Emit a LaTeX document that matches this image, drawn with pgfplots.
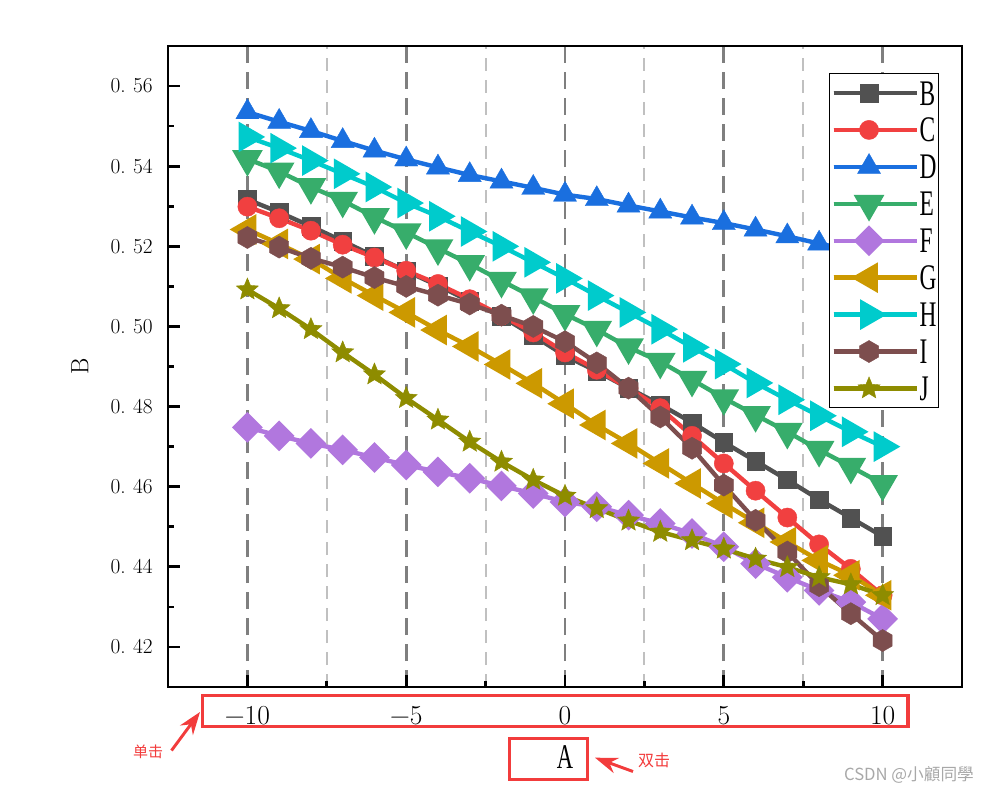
\documentclass[border=0pt]{standalone}
\usepackage{fontspec}
\newfontfamily\narrowfont[FakeStretch=0.65]{Liberation Serif}
\newfontfamily\cjkfont{Noto Sans CJK SC}
\usepackage{pgfplots}
\usepackage{pgfplotstable}
\pgfplotsset{compat=1.18}
\usetikzlibrary{arrows.meta}

\definecolor{cB}{HTML}{515151}
\definecolor{cC}{HTML}{F14040}
\definecolor{cD}{HTML}{1A6FDF}
\definecolor{cE}{HTML}{37AD6B}
\definecolor{cF}{HTML}{B177DE}
\definecolor{cG}{HTML}{CC9900}
\definecolor{cH}{HTML}{00CBCC}
\definecolor{cI}{HTML}{7D4E4E}
\definecolor{cJ}{HTML}{8E8C00}
\definecolor{gridmaj}{HTML}{7F7F7F}
\definecolor{gridmin}{HTML}{C0C0C0}
\definecolor{annot}{HTML}{F23C3C}
\definecolor{wm}{HTML}{A8A8A8}

\pgfdeclareplotmark{hexagon*}{%
  \pgfpathmoveto{\pgfqpointpolar{90}{\pgfplotmarksize}}%
  \pgfpathlineto{\pgfqpointpolar{150}{\pgfplotmarksize}}%
  \pgfpathlineto{\pgfqpointpolar{210}{\pgfplotmarksize}}%
  \pgfpathlineto{\pgfqpointpolar{270}{\pgfplotmarksize}}%
  \pgfpathlineto{\pgfqpointpolar{330}{\pgfplotmarksize}}%
  \pgfpathlineto{\pgfqpointpolar{30}{\pgfplotmarksize}}%
  \pgfpathclose\pgfusepathqfillstroke}
\pgfdeclareplotmark{star5*}{%
  \pgfpathmoveto{\pgfqpointpolar{90}{\pgfplotmarksize}}%
  \pgfpathlineto{\pgfqpointpolar{126}{0.45\pgfplotmarksize}}%
  \pgfpathlineto{\pgfqpointpolar{162}{\pgfplotmarksize}}%
  \pgfpathlineto{\pgfqpointpolar{198}{0.45\pgfplotmarksize}}%
  \pgfpathlineto{\pgfqpointpolar{234}{\pgfplotmarksize}}%
  \pgfpathlineto{\pgfqpointpolar{270}{0.45\pgfplotmarksize}}%
  \pgfpathlineto{\pgfqpointpolar{306}{\pgfplotmarksize}}%
  \pgfpathlineto{\pgfqpointpolar{342}{0.45\pgfplotmarksize}}%
  \pgfpathlineto{\pgfqpointpolar{18}{\pgfplotmarksize}}%
  \pgfpathlineto{\pgfqpointpolar{54}{0.45\pgfplotmarksize}}%
  \pgfpathclose\pgfusepathqfillstroke}

\pgfplotstableread{
x   B      C      D      E      F      G      H      I      J
-10 0.5317 0.5299 0.5535 0.5418 0.4748 0.5242 0.5473 0.5222 0.5092
-9  0.5285 0.5270 0.5511 0.5387 0.4727 0.5206 0.5445 0.5198 0.5045
-8  0.5250 0.5239 0.5488 0.5348 0.4708 0.5168 0.5414 0.5170 0.4993
-7  0.5213 0.5204 0.5463 0.5314 0.4692 0.5120 0.5381 0.5148 0.4935
-6  0.5175 0.5172 0.5439 0.5273 0.4673 0.5077 0.5348 0.5122 0.4880
-5  0.5138 0.5139 0.5417 0.5235 0.4654 0.5035 0.5308 0.5100 0.4821
-4  0.5102 0.5106 0.5397 0.5195 0.4637 0.4991 0.5275 0.5078 0.4767
-3  0.5063 0.5068 0.5378 0.5156 0.4621 0.4950 0.5237 0.5056 0.4712
-2  0.5025 0.5027 0.5362 0.5114 0.4602 0.4905 0.5200 0.5028 0.4662
-1  0.4977 0.4985 0.5346 0.5073 0.4583 0.4858 0.5160 0.5000 0.4617
0   0.4927 0.4935 0.5329 0.5031 0.4562 0.4807 0.5120 0.4962 0.4577
1   0.4888 0.4892 0.5318 0.4992 0.4550 0.4754 0.5077 0.4909 0.4546
2   0.4846 0.4846 0.5302 0.4948 0.4529 0.4708 0.5035 0.4846 0.4515
3   0.4805 0.4796 0.5287 0.4912 0.4508 0.4658 0.4993 0.4774 0.4487
4   0.4760 0.4727 0.5272 0.4867 0.4483 0.4608 0.4948 0.4696 0.4466
5   0.4711 0.4658 0.5258 0.4821 0.4450 0.4558 0.4906 0.4604 0.4445
6   0.4664 0.4590 0.5242 0.4779 0.4408 0.4510 0.4859 0.4516 0.4420
7   0.4617 0.4523 0.5225 0.4737 0.4374 0.4462 0.4817 0.4437 0.4399
8   0.4568 0.4456 0.5207 0.4692 0.4341 0.4416 0.4777 0.4353 0.4374
9   0.4522 0.4395 0.5190 0.4650 0.4312 0.4379 0.4737 0.4283 0.4356
10  0.4476 0.4329 0.5172 0.4607 0.4270 0.4329 0.4700 0.4216 0.4329
}\datatable

\pgfplotsset{
  ser/.style={color=#1, line width=3.3pt, mark options={solid, fill=#1, draw=#1, line width=0.3pt}},
}

\begin{document}
\begin{tikzpicture}
\path[use as bounding box] (0pt,0pt) rectangle (744pt,595.5pt);
\begin{axis}[
  at={(126pt,80.25pt)}, anchor=south west,
  width=595.5pt, height=480.75pt, scale only axis,
  xmin=-12.5, xmax=12.5, ymin=0.41, ymax=0.57,
  axis line style={line width=2.2pt},
  tick align=inside, tick pos=left,
  xtick={-10,-5,0,5,10},
  xticklabels={−10,−5,0,5,10},
  minor x tick num=1,
  ytick={0.42,0.44,0.46,0.48,0.50,0.52,0.54,0.56},
  yticklabels={0.\hspace{0.35em}42,0.\hspace{0.35em}44,0.\hspace{0.35em}46,0.\hspace{0.35em}48,0.\hspace{0.35em}50,0.\hspace{0.35em}52,0.\hspace{0.35em}54,0.\hspace{0.35em}56},
  minor y tick num=1,
  major tick length=9pt, minor tick length=4.5pt,
  every tick/.style={black, line width=2pt},
  xmajorgrids, xminorgrids,
  major grid style={gridmaj, line width=2.2pt, dash pattern=on 13pt off 6.5pt},
  minor grid style={gridmin, line width=1.5pt, dash pattern=on 10pt off 6.5pt},
  xticklabel style={font=\fontsize{20.6}{22}\selectfont, anchor=north, inner sep=0pt, text height=13.5pt, text depth=0pt, yshift=-14.25pt},
  yticklabel style={font=\fontsize{16}{18}\selectfont, anchor=east, inner sep=0pt, text height=10.3pt, text depth=0pt, xshift=-11.25pt},
  xlabel={A}, ylabel={B},
  xlabel style={at={(rel axis cs:0.5,0)}, anchor=center, font=\narrowfont\fontsize{26}{28}\selectfont, inner sep=0pt, text height=17.25pt, text depth=0pt, yshift=-52.5pt},
  ylabel style={at={(rel axis cs:-0.111,0.5)}, anchor=center, font=\fontsize{18.7}{20}\selectfont, inner sep=0pt, text height=12.75pt, text depth=0pt},
  legend style={at={(rel axis cs:1,1)}, anchor=north east, xshift=-17.25pt, yshift=-20.25pt,
    draw=black, line width=0.8pt, fill=white, inner xsep=1.5pt, inner ysep=3.6pt, row sep=5.7pt,
    font=\narrowfont\fontsize{27}{29}\selectfont,
    nodes={inner sep=0pt, text height=20pt, text depth=2pt}},
  legend cell align=left,
  legend image code/.code={\draw[mark repeat=2, mark phase=2] plot coordinates {(0pt,0pt) (26.5pt,0pt) (53pt,0pt)}; \path (0pt,0pt) -- (62.75pt,0pt);},
]
\addplot[ser=cB, mark=square*, mark size=6.6pt] table[x=x, y=B] {\datatable};
\addplot[ser=cC, mark=*, mark size=7.2pt] table[x=x, y=C] {\datatable};
\addplot[ser=cD, mark=triangle*, mark size=10pt] table[x=x, y=D] {\datatable};
\addplot[ser=cE, mark=triangle*, mark size=10pt, mark options={rotate=180}] table[x=x, y=E] {\datatable};
\addplot[ser=cF, mark=square*, mark size=6.5pt, mark options={rotate=45}] table[x=x, y=F] {\datatable};
\addplot[ser=cG, mark=triangle*, mark size=10pt, mark options={rotate=90}] table[x=x, y=G] {\datatable};
\addplot[ser=cH, mark=triangle*, mark size=10pt, mark options={rotate=-90}] table[x=x, y=H] {\datatable};
\addplot[ser=cI, mark=hexagon*, mark size=8.3pt] table[x=x, y=I] {\datatable};
\addplot[ser=cJ, mark=star5*, mark size=8.7pt] table[x=x, y=J] {\datatable};
\legend{B,C,D,E,F,G,H,I,J}
\end{axis}
\begin{scope}[x=0.75pt, y=-0.75pt, yshift=595.5pt]
  \draw[annot, line width=2.3pt] (202.2,695.5) rectangle (908,726.3);
  \draw[annot, line width=2.3pt] (509.5,738.5) rectangle (587.5,779.5);
  \draw[annot, line width=2.2pt, -{Stealth[length=17pt, width=12pt]}] (171.5,750.5) -- (200,712);
  \draw[annot, line width=2.2pt, -{Stealth[length=17pt, width=12pt]}] (633,771.5) -- (595,757.7);
  \node[annot, font=\cjkfont\fontsize{11.25}{12}\selectfont] at (148,752) {单击};
  \node[annot, font=\cjkfont\fontsize{12}{13}\selectfont] at (654,760) {双击};
  \node[wm, font=\cjkfont\fontsize{12.5}{13}\selectfont] at (909,775) {CSDN @小顧同學};
\end{scope}
\end{tikzpicture}
\end{document}
